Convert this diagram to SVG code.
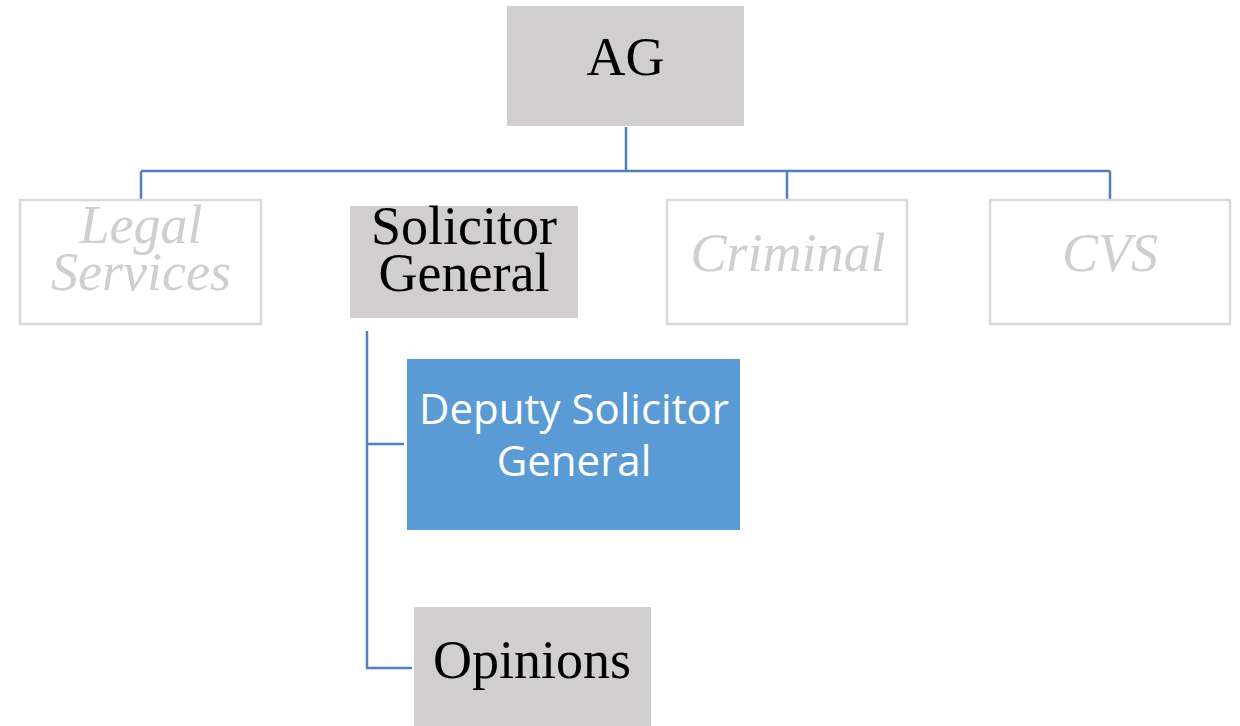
<svg xmlns="http://www.w3.org/2000/svg" width="1240" height="726" viewBox="0 0 1240 726">
<style>
.gray{fill:#D0CECE;}
.ghost{fill:none;stroke:#D9D9D9;stroke-width:2.5;}
.blue{fill:#5B9BD5;}
.serif{font-family:"Liberation Serif","Times New Roman",serif;font-size:54px;text-anchor:middle;fill:#000;}
.ital{font-family:"Liberation Serif","Times New Roman",serif;font-style:italic;font-size:54px;text-anchor:middle;fill:#D0CECE;}
.sans{font-family:"Open Sans","Liberation Sans",sans-serif;font-size:42px;text-anchor:middle;fill:#fff;}
.conn{fill:none;stroke:#4F81BD;stroke-width:2.5;}
</style>
<rect width="1240" height="726" fill="#fff"/>
<g id="connectors">
<path class="conn" d="M626 127 V171 M141 171 H1110 M141 171 V200 M787 171 V200 M1110 171 V200"/>
<path class="conn" d="M367 331 V668 H412 M367 444 H404"/>
</g>
<g id="ag"><rect class="gray" x="507" y="6" width="237" height="120"/><text class="serif" x="625.5" y="75">AG</text></g>
<g id="legal"><rect class="ghost" x="20" y="200" width="241" height="124"/><text class="ital"><tspan x="141" y="243">Legal</tspan><tspan x="141" y="290">Services</tspan></text></g>
<g id="solicitor"><rect class="gray" x="350" y="206" width="228" height="112"/><text class="serif"><tspan x="464" y="244">Solicitor</tspan><tspan x="464" y="291">General</tspan></text></g>
<g id="criminal"><rect class="ghost" x="667" y="200" width="240" height="124"/><text class="ital" x="788" y="271">Criminal</text></g>
<g id="cvs"><rect class="ghost" x="990" y="200" width="240" height="124"/><text class="ital" x="1110" y="271">CVS</text></g>
<g id="deputy"><rect class="blue" x="407" y="359" width="333" height="171"/><text class="sans"><tspan x="574" y="424">Deputy Solicitor</tspan><tspan x="574" y="476">General</tspan></text></g>
<g id="opinions"><rect class="gray" x="414" y="607" width="237" height="119"/><text class="serif" x="532" y="678">Opinions</text></g>
</svg>
